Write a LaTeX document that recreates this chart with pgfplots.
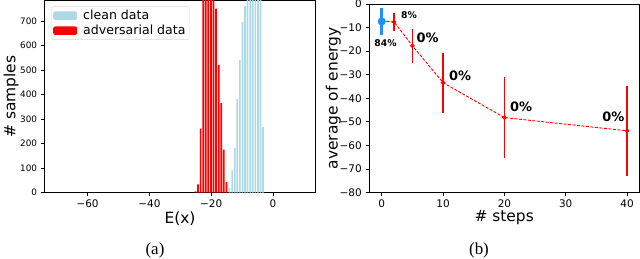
\documentclass[border=0pt]{standalone}
\usepackage{pgfplots}
\pgfplotsset{compat=1.18}
\usepackage{fontspec}
\setmainfont{DejaVu Sans}
\newfontfamily\capfont{Liberation Serif}
\definecolor{lblue}{RGB}{173,216,230}
\definecolor{dblue}{RGB}{30,144,255}
\pgfplotstableread{
x y
-25.10 5
-24.27 33
-23.43 260
-22.60 950
-21.76 1150
-20.93 1250
-20.09 1150
-19.26 950
-18.42 750
-17.59 520
-16.75 365
-15.92 175
-15.08 42
}\advdata
\pgfplotstableread{
x y
-14.07 18
-13.24 90
-12.40 182
-11.57 382
-10.73 540
-9.90 696
-9.06 760
-8.23 900
-7.39 1000
-6.56 1050
-5.72 1000
-4.89 950
-4.05 850
-3.22 267
}\cleandata
\pgfplotstableread{
x y e
0 -7.3 0
2 -7.6 3.8
5 -17.7 7.2
10 -33.4 12.7
20 -48.2 17.2
40 -53.8 19.0
}\energy
\pgfplotsset{
  myticks/.style={
    tick align=outside, xtick pos=bottom, ytick pos=left,
    major tick length=3.5bp,
    axis line style={line width=0.7bp},
    tick style={line width=0.7bp, black},
    x tick label style={inner sep=1bp, yshift=-2.5bp},
    y tick label style={inner sep=1bp, xshift=-2.5bp},
    label style={font=\fontsize{15.5}{18}\selectfont, inner sep=0pt},
  }
}
\begin{document}
\begin{tikzpicture}[x=1bp,y=1bp]
\path[use as bounding box] (0,0) rectangle (640,258);
\begin{axis}[
  at={(44.3bp,65.5bp)}, anchor=south west,
  scale only axis, width=271.4bp, height=192bp,
  xmin=-74, xmax=13.8, ymin=0, ymax=783,
  xtick={-60,-40,-20,0}, xticklabels={−60,−40,−20,0},
  ytick={0,100,...,700},
  yticklabels={0,100,200,300,400,500,600,700},
  myticks,
  x tick label style={font=\fontsize{10.5}{12}\selectfont},
  y tick label style={font=\fontsize{8.9}{10}\selectfont},
  xlabel={E(x)}, ylabel={\# samples},
  xlabel style={at={(axis description cs:0.5,-0.164)}, anchor=base},
  ylabel style={at={(axis description cs:-0.1227,0.5)}, anchor=center},
  legend style={at={(0.0247,0.969)}, anchor=north west, draw=black!15,
    rounded corners=2bp, font=\fontsize{12.6}{14}\selectfont,
    inner xsep=2bp, inner ysep=1.5bp, row sep=0bp, cells={anchor=west}},
]
\addplot[ybar, bar width=0.56, bar shift=0pt, fill=lblue, draw=none,
  legend image code/.code={\fill[lblue] (0bp,-4.2bp) rectangle (24bp,4.2bp); \path (28bp,0bp);}]
  table[x=x,y=y] {\cleandata};
\addlegendentry{clean data}
\addplot[ybar, bar width=0.56, bar shift=0pt, fill=red, draw=none,
  legend image code/.code={\fill[red] (0bp,-4.2bp) rectangle (24bp,4.2bp); \path (28bp,0bp);}]
  table[x=x,y=y] {\advdata};
\addlegendentry{adversarial data}
\end{axis}

\begin{axis}[
  at={(369bp,65.5bp)}, anchor=south west,
  scale only axis, width=270.3bp, height=188.5bp,
  xmin=-2.08, xmax=42, ymin=-80, ymax=0,
  xtick={0,10,20,30,40},
  ytick={-80,-70,-60,-50,-40,-30,-20,-10,0},
  yticklabels={−80,−70,−60,−50,−40,−30,−20,−10,0},
  xticklabels={0,10,20,30,40},
  myticks,
  tick label style={font=\fontsize{10.5}{12}\selectfont},
  xlabel={\# steps}, ylabel={average of energy},
  xlabel style={at={(axis description cs:0.5,-0.152)}, anchor=base},
  ylabel style={at={(axis description cs:-0.132,0.5)}, anchor=center},
]
\addplot[red, line width=0.9bp, dash pattern=on 3bp off 1.5bp,
  mark=o, mark size=1.9bp, mark options={solid, fill=red!45, line width=0.9bp},
  error bars/.cd, y dir=both, y explicit,
  error bar style={line width=1.2bp, red, solid}, error mark=none]
  table[x=x,y=y,y error=e] {\energy};
\addplot[dblue, only marks, mark=*, mark size=3.8bp,
  error bars/.cd, y dir=both, y explicit,
  error bar style={line width=3.4bp, dblue}, error mark=none]
  coordinates {(0,-7.4) +- (0,5.6)};
\node[font=\bfseries\fontsize{9.3}{11}\selectfont, anchor=west] at (axis cs:2.6,-4.6) {8\%};
\node[font=\bfseries\fontsize{9.3}{11}\selectfont] at (axis cs:0.6,-16.4) {84\%};
\node[font=\bfseries\fontsize{13}{15}\selectfont] at (axis cs:7.48,-14.4) {0\%};
\node[font=\bfseries\fontsize{13}{15}\selectfont] at (axis cs:12.78,-30.5) {0\%};
\node[font=\bfseries\fontsize{13}{15}\selectfont] at (axis cs:22.74,-43.7) {0\%};
\node[font=\bfseries\fontsize{13}{15}\selectfont] at (axis cs:37.76,-47.9) {0\%};
\end{axis}
\node[font=\capfont\fontsize{17}{20}\selectfont] at (155,8) {(a)};
\node[font=\capfont\fontsize{17}{20}\selectfont] at (479,8) {(b)};
\end{tikzpicture}
\end{document}
